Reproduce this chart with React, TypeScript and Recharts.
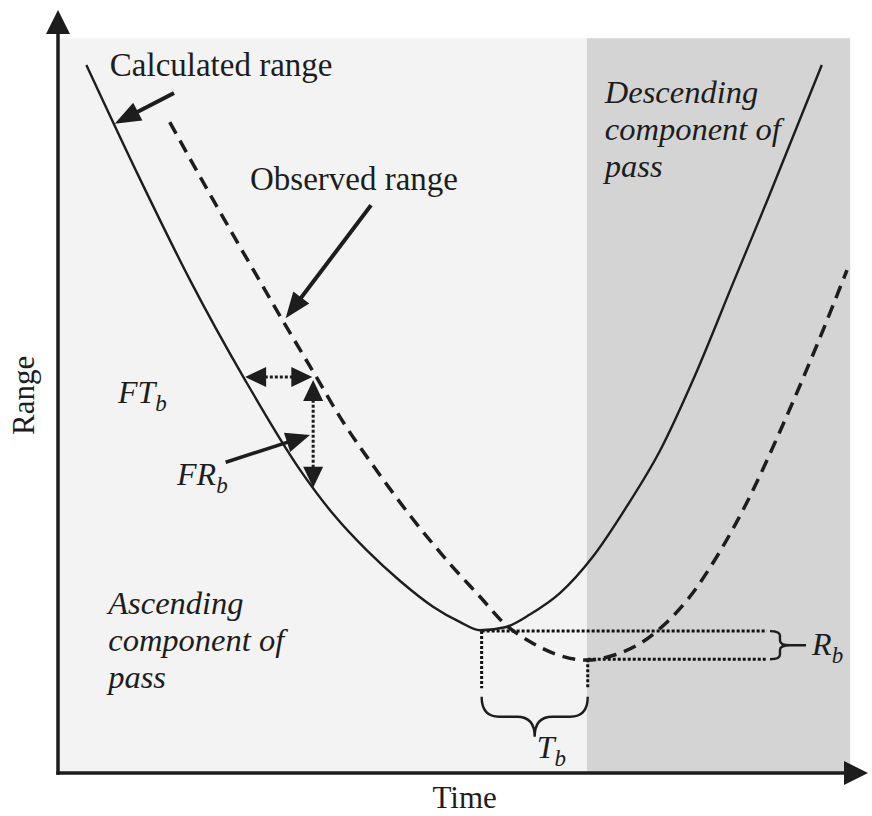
import React from 'react';
import {
  ComposedChart,
  Line,
  XAxis,
  YAxis,
  ReferenceArea,
  ReferenceLine,
  ReferenceDot,
} from 'recharts';

// calculated range (solid curve)
const calcTime = [3.5, 10.1, 16.3, 23.1, 29.9, 34.0, 38.1, 42.2, 46.3, 49.6, 52.1, 55.2, 58.3, 62.0, 66.0, 70.2, 74.3, 78.6, 83.3, 87.7, 94.3];
const calcRange = [92.8, 77.9, 64.6, 51.5, 39.7, 33.9, 29.2, 25.2, 21.8, 19.8, 18.7, 19.1, 20.8, 23.6, 28.3, 34.9, 42.2, 52.0, 64.1, 75.4, 92.8];

// observed range (dashed curve)
const obsTime = [13.8, 19.1, 23.7, 27.8, 31.5, 35.2, 39.1, 43.5, 48.4, 52.1, 55.2, 58.3, 61.4, 65.3, 68.8, 71.9, 74.9, 78.0, 81.7, 85.4, 89.1, 93.7, 97.4];
const obsRange = [85.3, 75.2, 66.7, 59.2, 52.6, 46.0, 40.0, 33.7, 27.4, 23.1, 19.5, 17.2, 15.6, 14.8, 15.5, 17.0, 19.5, 23.1, 29.0, 36.2, 44.7, 56.1, 65.9];

// ascending / descending parts of the pass
const passEdges = [0, 65.3, 97.8];
const passTop = 96.3;

// minima and bias markers
const calcMin = { t: 52.3, r: 18.6 };
const obsMin = { t: 65.4, r: 14.9 };
const biasLineEnd = 87.5;
const timeDropTo = 11.1;
const timeBraceAt = 10.0;
const rangeBraceAt = 87.9;

// FT_b / FR_b arrows
const ftAt = { r: 51.9, from: 23.1, to: 31.4 };
const frAt = { t: 31.5, from: 51.5, to: 37.4 };
const frPointer = [{ x: 20.9, y: 40.8 }, { x: 31.1, y: 44.3 }];
const calcPointer = [{ x: 14.1, y: 89.0 }, { x: 7.0, y: 85.1 }];
const obsPointer = [{ x: 38.5, y: 74.2 }, { x: 28.1, y: 59.6 }];

const axisLabels = ['Time', 'Range'];
const curveLabels = ['Calculated range', 'Observed range'];
const ascLines = ['Ascending', 'component of', 'pass'];
const descLines = ['Descending', 'component of', 'pass'];

const calcData = calcTime.map((t, i) => ({ t, r: calcRange[i] }));
const obsData = obsTime.map((t, i) => ({ t, r: obsRange[i] }));

const INK = '#1d1d1d';
const FONT = "'Liberation Serif', 'Times New Roman', serif";

function arrowShape(o: { both?: boolean; dash?: string; sw?: number; len?: number; half?: number }) {
  const L = o.len ?? 22;
  const W = o.half ?? 9;
  return (p: any) => {
    const { x1, y1, x2, y2 } = p;
    const d = Math.hypot(x2 - x1, y2 - y1) || 1;
    const ux = (x2 - x1) / d;
    const uy = (y2 - y1) / d;
    const head = (tx: number, ty: number, dx: number, dy: number) => {
      const bx = tx - dx * L;
      const by = ty - dy * L;
      return `${tx},${ty} ${bx - dy * W},${by + dx * W} ${bx + dy * W},${by - dx * W}`;
    };
    const s = o.both ? L * 0.7 : 0;
    return (
      <g>
        <line
          x1={x1 + ux * s}
          y1={y1 + uy * s}
          x2={x2 - ux * L * 0.7}
          y2={y2 - uy * L * 0.7}
          stroke={INK}
          strokeWidth={o.sw ?? 3}
          strokeDasharray={o.dash}
          strokeLinecap={o.dash ? 'butt' : 'square'}
        />
        <polygon points={head(x2, y2, ux, uy)} fill={INK} />
        {o.both && <polygon points={head(x1, y1, -ux, -uy)} fill={INK} />}
      </g>
    );
  };
}

function braceShape(depth: number, tail = 0) {
  return (p: any) => {
    const { x1, y1, x2, y2 } = p;
    const len = Math.hypot(x2 - x1, y2 - y1) || 1;
    const ux = (x2 - x1) / len;
    const uy = (y2 - y1) / len;
    const nx = -uy;
    const ny = ux;
    const at = (s: number, t: number) => `${x1 + ux * s + nx * t},${y1 + uy * s + ny * t}`;
    const q = depth / 2;
    const h = len / 2;
    const r = Math.min(q, h / 3);
    let d = `M${at(0, 0)} Q${at(0, q)} ${at(r, q)} L${at(h - r, q)} Q${at(h, q)} ${at(h, depth)} Q${at(h, q)} ${at(h + r, q)} L${at(len - r, q)} Q${at(len, q)} ${at(len, 0)}`;
    if (tail) d += ` M${at(h, depth)} L${at(h, depth + tail)}`;
    return <path d={d} fill="none" stroke={INK} strokeWidth={2.4} />;
  };
}

function textShape(lines: string[], o: { italic?: boolean; sub?: string; anchor?: string; rotate?: number; size?: number } = {}) {
  const size = o.size ?? 33;
  return (p: any) => {
    const { cx, cy } = p;
    return (
      <text
        x={cx}
        y={cy}
        fill={INK}
        fontFamily={FONT}
        fontSize={size}
        fontStyle={o.italic ? 'italic' : 'normal'}
        textAnchor={o.anchor ?? 'start'}
        transform={o.rotate ? `rotate(${o.rotate} ${cx} ${cy})` : undefined}
      >
        {lines.map((l, i) => (
          <tspan key={i} x={cx} dy={i === 0 ? 0 : 37}>
            {l}
          </tspan>
        ))}
        {o.sub && (
          <tspan dy={8} fontSize={size * 0.72}>
            {o.sub}
          </tspan>
        )}
      </text>
    );
  };
}

const dotted = '3 2';

export default function App() {
  return (
    <div style={{ position: 'absolute', left: 0, top: 0, background: '#fff' }}>
      <ComposedChart width={872} height={816} margin={{ top: 10, right: 4, bottom: 43, left: 58 }}>
        <XAxis type="number" dataKey="t" domain={[0, 100]} allowDataOverflow hide />
        <YAxis type="number" dataKey="r" domain={[0, 100]} allowDataOverflow hide />

        <ReferenceArea x1={passEdges[0]} x2={passEdges[1]} y1={0} y2={passTop} fill="#f3f3f3" fillOpacity={1} stroke="none" ifOverflow="visible" />
        <ReferenceArea x1={passEdges[1]} x2={passEdges[2]} y1={0} y2={passTop} fill="#d4d4d4" fillOpacity={1} stroke="none" ifOverflow="visible" />

        {/* bias guides */}
        <ReferenceLine segment={[{ x: calcMin.t, y: calcMin.r }, { x: biasLineEnd, y: calcMin.r }]} stroke="#111" strokeWidth={3} strokeDasharray={dotted} ifOverflow="visible" />
        <ReferenceLine segment={[{ x: obsMin.t, y: obsMin.r }, { x: biasLineEnd, y: obsMin.r }]} stroke="#111" strokeWidth={3} strokeDasharray={dotted} ifOverflow="visible" />
        <ReferenceLine segment={[{ x: calcMin.t, y: calcMin.r }, { x: calcMin.t, y: timeDropTo }]} stroke="#111" strokeWidth={3} strokeDasharray={dotted} ifOverflow="visible" />
        <ReferenceLine segment={[{ x: obsMin.t, y: obsMin.r }, { x: obsMin.t, y: timeDropTo }]} stroke="#111" strokeWidth={3} strokeDasharray={dotted} ifOverflow="visible" />
        <ReferenceLine segment={[{ x: calcMin.t, y: timeBraceAt }, { x: obsMin.t, y: timeBraceAt }]} shape={braceShape(40)} ifOverflow="visible" />
        <ReferenceLine segment={[{ x: rangeBraceAt, y: obsMin.r }, { x: rangeBraceAt, y: calcMin.r }]} shape={braceShape(20, 16)} ifOverflow="visible" />

        <Line data={calcData} dataKey="r" type="monotone" stroke={INK} strokeWidth={2.4} dot={false} activeDot={false} isAnimationActive={false} />
        <Line data={obsData} dataKey="r" type="monotone" stroke={INK} strokeWidth={3.5} strokeDasharray="13 8" dot={false} activeDot={false} isAnimationActive={false} />

        {/* arrows */}
        <ReferenceLine segment={calcPointer} shape={arrowShape({ sw: 4, len: 26, half: 10 })} ifOverflow="visible" />
        <ReferenceLine segment={obsPointer} shape={arrowShape({ sw: 4, len: 26, half: 10 })} ifOverflow="visible" />
        <ReferenceLine segment={frPointer} shape={arrowShape({ sw: 3.5, len: 24, half: 10 })} ifOverflow="visible" />
        <ReferenceLine segment={[{ x: ftAt.from, y: ftAt.r }, { x: ftAt.to, y: ftAt.r }]} shape={arrowShape({ both: true, dash: '3 2', sw: 3, len: 21, half: 10 })} ifOverflow="visible" />
        <ReferenceLine segment={[{ x: frAt.t, y: frAt.from }, { x: frAt.t, y: frAt.to }]} shape={arrowShape({ both: true, dash: '3 2', sw: 3, len: 21, half: 10 })} ifOverflow="visible" />

        {/* axes */}
        <ReferenceLine segment={[{ x: 0, y: 0 }, { x: 100, y: 0 }]} shape={arrowShape({ sw: 3.5, len: 24, half: 12 })} ifOverflow="visible" />
        <ReferenceLine segment={[{ x: 0, y: 0 }, { x: 0, y: 100 }]} shape={arrowShape({ sw: 3.5, len: 24, half: 12 })} ifOverflow="visible" />

        {/* text */}
        <ReferenceDot x={50.2} y={-4.6} r={0} shape={textShape([axisLabels[0]], { anchor: 'middle', size: 31 })} ifOverflow="visible" />
        <ReferenceDot x={-3.0} y={49.5} r={0} shape={textShape([axisLabels[1]], { anchor: 'middle', rotate: -90, size: 31 })} ifOverflow="visible" />
        <ReferenceDot x={6.4} y={91.3} r={0} shape={textShape([curveLabels[0]])} ifOverflow="visible" />
        <ReferenceDot x={23.7} y={76.4} r={0} shape={textShape([curveLabels[1]])} ifOverflow="visible" />
        <ReferenceDot x={67.5} y={87.8} r={0} shape={textShape(descLines, { italic: true, size: 32.5 })} ifOverflow="visible" />
        <ReferenceDot x={6.2} y={20.8} r={0} shape={textShape(ascLines, { italic: true, size: 32.5 })} ifOverflow="visible" />
        <ReferenceDot x={7.4} y={48.5} r={0} shape={textShape(['FT'], { italic: true, sub: 'b', size: 32 })} ifOverflow="visible" />
        <ReferenceDot x={14.7} y={37.7} r={0} shape={textShape(['FR'], { italic: true, sub: 'b', size: 32 })} ifOverflow="visible" />
        <ReferenceDot x={93.1} y={15.5} r={0} shape={textShape(['R'], { italic: true, sub: 'b', size: 32 })} ifOverflow="visible" />
        <ReferenceDot x={59.1} y={2.0} r={0} shape={textShape(['T'], { italic: true, sub: 'b', size: 32 })} ifOverflow="visible" />
      </ComposedChart>
    </div>
  );
}
